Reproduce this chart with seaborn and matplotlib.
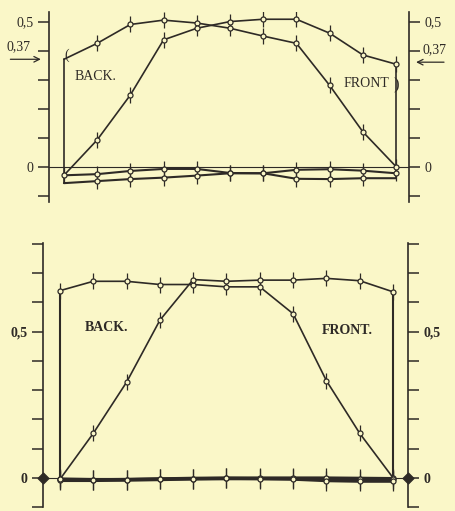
import numpy as np
import matplotlib
matplotlib.use("Agg")
import matplotlib.pyplot as plt
import seaborn as sns

# stations along the section (0 = back edge, 10 = front edge)
stations = np.arange(11)

# upper diagram, values
top_back_upper = [0.37, 0.425, 0.49, 0.505, 0.495, 0.477, 0.45, 0.425, 0.28, 0.12, 0.0]
top_front_upper = [-0.03, 0.092, 0.247, 0.437, 0.477, 0.50, 0.508, 0.508, 0.46, 0.385, 0.353]
top_back_lower = [-0.057, -0.05, -0.043, -0.038, -0.031, -0.023, -0.023, -0.011, -0.009, -0.014, -0.023]
top_front_lower = [-0.03, -0.026, -0.015, -0.008, -0.008, -0.022, -0.023, -0.042, -0.043, -0.04, -0.04]

# lower diagram
bot_back_upper = [0.64, 0.672, 0.672, 0.661, 0.661, 0.653, 0.653, 0.561, 0.332, 0.152, 0.0]
bot_front_upper = [-0.005, 0.152, 0.327, 0.539, 0.678, 0.672, 0.676, 0.676, 0.682, 0.674, 0.636]
bot_back_lower = [-0.008, -0.008, -0.007, -0.005, -0.003, -0.002, -0.002, -0.002, -0.002, -0.003, -0.004]
bot_front_lower = [-0.004, -0.006, -0.006, -0.004, -0.003, -0.002, -0.003, -0.005, -0.01, -0.012, -0.012]

top_ticks = [-0.1, 0, 0.1, 0.2, 0.3, 0.4, 0.5]
top_ticklabels = ["", "0", "", "", "", "", "0,5"]
bot_ticks = [-0.1, 0, 0.1, 0.2, 0.3, 0.4, 0.5, 0.6, 0.7, 0.8]
bot_ticklabels = ["", "0", "", "", "", "", "0,5", "", "", ""]

bg = "#faf7c8"
ink = "#2e2a26"

sns.set_style("white")
plt.rcParams["font.family"] = ["Liberation Serif", "DejaVu Serif"]

W, H = 455, 511
fig = plt.figure(figsize=(W / 100, H / 100), dpi=100, facecolor=bg)


def px_axes(left, top, right, bottom):
    return fig.add_axes([left / W, 1 - bottom / H, (right - left) / W, (bottom - top) / H])


def draw_curve(ax, xs, ys, lw=1.2, marks=slice(None), tick=12):
    sns.lineplot(x=xs, y=ys, ax=ax, color=ink, lw=lw, sort=False, estimator=None)
    if marks is not None:
        mx = np.asarray(xs)[marks]
        my = np.asarray(ys)[marks]
        ax.scatter(mx, my, marker="|", s=tick ** 2, color=ink, linewidths=0.9, zorder=4)
        ax.scatter(mx, my, marker="o", s=13, facecolor=bg, edgecolor=ink, linewidths=0.9, zorder=5)


def style_axes(ax, ticks, labels, bold):
    ax.set_facecolor("none")
    for s in ["top", "bottom"]:
        ax.spines[s].set_visible(False)
    for s in ["left", "right"]:
        ax.spines[s].set_color(ink)
        ax.spines[s].set_linewidth(1.2)
    ax.set_xticks([])
    ax.set_yticks(ticks)
    ax.set_yticklabels(labels, fontsize=10, color=ink, fontweight="bold" if bold else "normal")
    ax.tick_params(axis="y", direction="out", length=8, width=1.1, color=ink,
                   left=True, right=True, labelleft=True, labelright=True, pad=3)
    ax.axhline(0, color=ink, lw=0.8, zorder=1)
    ax.set_xlabel("")
    ax.set_ylabel("")


# ---- upper diagram ----
ax1 = px_axes(49, 12, 409, 202)
draw_curve(ax1, stations, top_back_upper, marks=slice(1, None))
draw_curve(ax1, stations, top_front_upper)
draw_curve(ax1, stations, top_back_lower, lw=1.5, marks=slice(1, None))
draw_curve(ax1, stations, top_front_lower, lw=1.5, marks=slice(1, -1))
# edge drops
draw_curve(ax1, [stations[0], stations[0]], [top_back_upper[0], top_back_lower[0]], marks=None)
draw_curve(ax1, [stations[-1], stations[-1]], [top_front_upper[-1], top_front_lower[-1]], marks=None)
ax1.set_xlim(-0.45, 10.39)
ax1.set_ylim(-0.122, 0.533)
style_axes(ax1, top_ticks, top_ticklabels, bold=False)

yax = ax1.get_yaxis_transform()
ax1.annotate("", xy=(-0.015, 0.37), xycoords=yax, xytext=(-0.115, 0.37), textcoords=yax,
             arrowprops=dict(arrowstyle="->", color=ink, lw=0.9))
ax1.text(-0.085, 0.39, "0,37", transform=yax, ha="center", va="bottom", fontsize=10, color=ink)
ax1.annotate("", xy=(1.012, 0.36), xycoords=yax, xytext=(1.105, 0.36), textcoords=yax,
             arrowprops=dict(arrowstyle="->", color=ink, lw=0.9))
ax1.text(1.07, 0.38, "0,37", transform=yax, ha="center", va="bottom", fontsize=10, color=ink)
ax1.text(0.07, 0.385, "(", fontsize=10, color=ink, ha="center", va="center")
ax1.text(10.0, 0.28, ")", fontsize=12, color=ink, ha="center", va="center")
fig.text(95 / W, 1 - 76 / H, "BACK.", fontsize=10, color=ink, ha="center", va="center")
fig.text(366 / W, 1 - 83 / H, "FRONT", fontsize=10, color=ink, ha="center", va="center")

# ---- lower diagram ----
ax2 = px_axes(43, 243, 408, 507)
draw_curve(ax2, stations, bot_back_upper)
draw_curve(ax2, stations, bot_front_upper)
draw_curve(ax2, stations, bot_back_lower, lw=2.8, tick=14)
draw_curve(ax2, stations, bot_front_lower, lw=2.2, tick=14)
draw_curve(ax2, [stations[0], stations[0]], [bot_back_upper[0], bot_back_lower[0]], lw=1.5, marks=None)
draw_curve(ax2, [stations[-1], stations[-1]], [bot_front_upper[-1], bot_front_lower[-1]], lw=1.5, marks=None)
ax2.set_xlim(-0.51, 10.45)
ax2.set_ylim(-0.097, 0.803)
style_axes(ax2, bot_ticks, bot_ticklabels, bold=True)
yax2 = ax2.get_yaxis_transform()
ax2.scatter([0, 1], [0, 0], transform=yax2, marker="D", s=30, color=ink, zorder=6, clip_on=False)
fig.text(107 / W, 1 - 327 / H, "BACK.", fontsize=10, color=ink, ha="center", va="center", fontweight="bold")
fig.text(347 / W, 1 - 330 / H, "FRONT.", fontsize=10, color=ink, ha="center", va="center", fontweight="bold")

fig.savefig("out.png", dpi=100, facecolor=bg)
